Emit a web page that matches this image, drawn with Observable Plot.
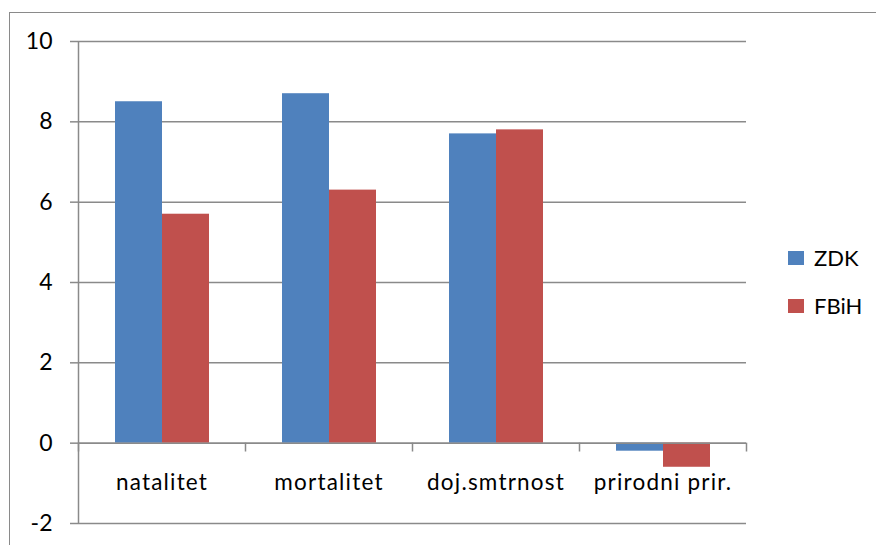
<!DOCTYPE html>
<html>
<head>
<meta charset="utf-8">
<script src="https://cdn.jsdelivr.net/npm/d3@7"></script>
<script src="https://cdn.jsdelivr.net/npm/@observablehq/plot@0.6"></script>
<style>
  html, body { margin: 0; padding: 0; background: #fff; overflow: hidden; }
  #wrap { position: relative; width: 876px; height: 545px; }
  #border { position: absolute; left: 9px; top: 12px; width: 900px; height: 600px;
            border-left: 1.5px solid #8a8a8a; border-top: 1.5px solid #8a8a8a; pointer-events: none; }
  #chart svg g[aria-label="y-axis tick"] { stroke: #8a8a8a; color: #8a8a8a; }
  #chart svg g[aria-label="y-axis tick"] path { stroke: #8a8a8a; stroke-width: 1.5; }
  #chart svg g[aria-label="y-axis tick label"] { font-size: 23px; }
  #chart svg g[aria-label="text"] text { letter-spacing: 1.2px; }
  #legend { position: absolute; left: 788px; top: 247px; font-family: Lato, sans-serif; font-size: 22px; color: #000; }
  .item { position: relative; height: 48px; }
  .sw { position: absolute; left: 0; top: 4px; width: 16px; height: 14px; }
  .lab { position: absolute; left: 26px; top: -2px; line-height: 26px; }
</style>
</head>
<body>
<div id="wrap">
  <div id="chart"></div>
  <div id="border"></div>
  <div id="legend"></div>
</div>
<script>
const categories = ["natalitet", "mortalitet", "doj.smtrnost", "prirodni prir."];
const series = ["ZDK", "FBiH"];
const zdkValues = [8.5, 8.7, 7.7, -0.2];
const fbihValues = [5.7, 6.3, 7.8, -0.6];
const yTicks = [-2, 0, 2, 4, 6, 8, 10];
const colors = ["#4F81BD", "#C0504D"];

const data = categories.flatMap((c, i) => [
  {cat: c, series: series[0], value: zdkValues[i]},
  {cat: c, series: series[1], value: fbihValues[i]}
]);

const W = 876, H = 545;
const mL = 78, mR = 130, mT = 41, mB = 22;
const fw = (W - mL - mR) / categories.length;
const grid = "#8a8a8a";

const chart = Plot.plot({
  width: W, height: H,
  marginLeft: mL, marginRight: mR, marginTop: mT, marginBottom: mB,
  style: {fontFamily: "Lato, sans-serif", fontSize: "22px", color: "#000", background: "transparent"},
  fx: {domain: categories, padding: 0, axis: null, label: null},
  x: {domain: series, paddingInner: 0, paddingOuter: 0.74, axis: null, label: null},
  y: {domain: [-2, 10], ticks: yTicks, tickSize: 8, tickPadding: 18, label: null, tickFormat: d => String(d)},
  color: {domain: series, range: colors},
  marks: [
    Plot.ruleY(yTicks, {stroke: grid, strokeWidth: 1.5}),
    Plot.barY(data, {fx: "cat", x: "series", y1: 0, y2: "value", fill: "series"}),
    Plot.ruleY([0], {stroke: grid, strokeWidth: 1.5}),
    Plot.ruleX(categories, {fx: d => d, x: null, y1: 0, y2: -0.22, dx: -fw / 2, stroke: grid, strokeWidth: 1.5}),
    Plot.ruleX(categories.slice(-1), {fx: d => d, x: null, y1: 0, y2: -0.22, dx: fw / 2, stroke: grid, strokeWidth: 1.5}),
    Plot.ruleX(categories.slice(0, 1), {fx: d => d, x: null, y1: -2, y2: 10, dx: -fw / 2, stroke: grid, strokeWidth: 1.5}),
    Plot.text(categories, {fx: d => d, y: -1, dy: -1, text: d => d, fill: "#000", fontSize: 22.5})
  ]
});
document.getElementById("chart").appendChild(chart);

const legend = document.getElementById("legend");
series.forEach((s, i) => {
  const item = document.createElement("div");
  item.className = "item";
  item.innerHTML = `<div class="sw" style="background:${colors[i]}"></div><div class="lab">${s}</div>`;
  legend.appendChild(item);
});
</script>
</body>
</html>
